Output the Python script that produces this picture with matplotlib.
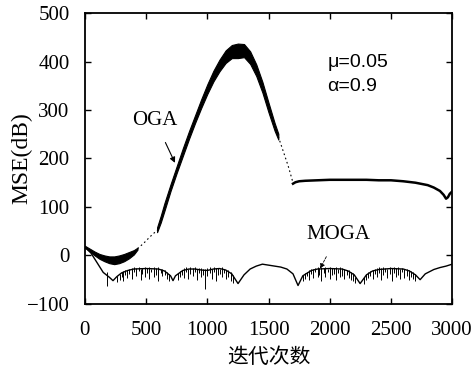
import numpy as np
import matplotlib
matplotlib.use("Agg")
import matplotlib.pyplot as plt

plt.rcParams['font.family'] = ['Liberation Serif', 'Noto Sans CJK SC']
plt.rcParams['mathtext.fontset'] = 'stix'

# OGA first solid band
oga1_x = [0, 40, 80, 120, 160, 200, 240, 280, 320, 360, 400, 430]
oga1_hi = [20, 14, 8, 3, 0, -2, -2, 0, 3, 7, 11, 16]
oga1_lo = [16, 8, 0, -7, -12, -16, -18, -16, -12, -6, 2, 12]
# dotted gap 1
oga_d1_x = [430, 480, 530, 590]
oga_d1_y = [14, 25, 38, 52]
# main hump band
oga2_x = [590, 620, 650, 700, 750, 800, 850, 900, 950, 1000, 1050, 1100, 1150,
          1200, 1250, 1300, 1350, 1400, 1450, 1500, 1550, 1580]
oga2_hi = [58, 82, 108, 147, 184, 221, 256, 289, 322, 353, 381, 404, 423,
           434, 437, 436, 421, 394, 358, 315, 273, 251]
oga2_lo = [48, 68, 92, 133, 170, 205, 240, 273, 304, 333, 359, 380, 397,
           407, 407, 409, 395, 370, 336, 295, 257, 239]
# dotted gap 2
oga_d2_x = [1580, 1620, 1660, 1700]
oga_d2_y = [245, 215, 185, 150]
# flat tail
oga3_x = [1700, 1720, 1750, 1800, 1900, 2000, 2100, 2200, 2300, 2400, 2500, 2600,
          2700, 2800, 2850, 2900, 2930, 2950, 2965, 2980, 3000]
oga3_y = [148, 151, 153, 154, 155, 156, 156, 156, 156, 155, 155, 153,
          150, 145, 140, 133, 125, 117, 120, 127, 132]

# MOGA smooth envelope
moga_x = [0, 50, 100, 150, 200, 230, 260, 300, 350, 400, 500, 600, 650, 700, 720,
          740, 800, 850, 900, 950, 1000, 1050, 1100, 1150, 1200, 1251, 1300, 1350,
          1400, 1450, 1500, 1550, 1600, 1650, 1700, 1741, 1780, 1850, 1900, 2000,
          2100, 2150, 2200, 2248, 2300, 2350, 2400, 2500, 2600, 2650, 2700, 2738,
          2780, 2850, 2900, 2950, 3000]
moga_y = [18, 5, -15, -35, -45, -52, -44, -36, -31, -28, -27, -28, -32, -42, -52,
          -42, -31, -28, -28, -30, -31, -28, -27, -30, -38, -58, -40, -28,
          -22, -18, -20, -22, -24, -28, -38, -62, -42, -31, -28, -27,
          -28, -32, -40, -58, -40, -32, -29, -27, -28, -32, -40, -50,
          -38, -29, -25, -22, -18]
# MOGA noise spikes
spike_x = [180,
           265, 285, 300, 312, 330, 348, 360, 385, 402, 418,
           440, 455, 470, 492, 505, 522, 540, 566, 583, 600,
           618, 632, 655, 672, 690, 760, 778, 795, 812, 830,
           846, 862, 880, 897, 915, 930, 948, 965, 981, 1000,
           1018, 1035, 1052, 1070, 1085, 1102, 1120, 1138, 1155, 1172,
           1190, 1210,
           1780, 1798, 1815, 1830, 1848, 1865, 1882, 1900, 1915, 1932,
           1950, 1965, 1983, 2000, 2018, 2035, 2050, 2068, 2085, 2102,
           2120, 2138, 2155, 2172, 2190, 2210, 2280, 2298, 2315, 2332,
           2350, 2368, 2385, 2400, 2418, 2435, 2452, 2470, 2488, 2505,
           2522, 2540, 2558, 2575, 2592, 2610, 2628, 2645, 2662, 2680,
           2700]
spike_top = [-35,
             -42, -38, -34, -33, -30, -29, -27, -26, -24, -26,
             -24, -27, -25, -23, -26, -24, -27, -24, -26, -23,
             -27, -28, -31, -34, -38, -36, -33, -30, -26, -24,
             -27, -23, -26, -24, -27, -25, -26, -28, -27, -26,
             -24, -27, -23, -26, -25, -27, -24, -27, -29, -31,
             -34, -40,
             -40, -37, -34, -31, -28, -27, -25, -24, -26, -23,
             -26, -24, -27, -23, -25, -26, -24, -27, -23, -26,
             -27, -29, -31, -34, -37, -44, -44, -39, -35, -32,
             -29, -27, -26, -24, -26, -23, -25, -27, -24, -26,
             -23, -26, -24, -27, -25, -27, -28, -30, -32, -35,
             -38]
spike_bot = [-62,
             -55, -50, -44, -52, -40, -46, -38, -48, -35, -42,
             -33, -50, -38, -44, -36, -48, -34, -45, -40, -52,
             -36, -42, -40, -48, -52, -50, -44, -40, -46, -35,
             -48, -38, -42, -34, -50, -37, -44, -40, -70, -42,
             -36, -48, -34, -52, -40, -38, -45, -36, -48, -44,
             -52, -56,
             -52, -48, -42, -50, -38, -46, -35, -44, -40, -52,
             -36, -45, -34, -48, -40, -38, -50, -36, -44, -42,
             -48, -40, -46, -50, -52, -56, -58, -50, -46, -42,
             -48, -38, -44, -36, -50, -40, -34, -46, -38, -52,
             -36, -44, -40, -48, -35, -46, -42, -50, -44, -48,
             -52]

x_ticks = [0, 500, 1000, 1500, 2000, 2500, 3000]
y_ticks = [-100, 0, 100, 200, 300, 400, 500]

fig = plt.figure(figsize=(4.74, 3.72), dpi=100)
ax = fig.add_axes([0.179, 0.183, 0.775, 0.782])

ax.fill_between(oga1_x, oga1_lo, oga1_hi, color='black', lw=0.8)
ax.plot(oga_d1_x, oga_d1_y, color='black', lw=0.8, ls=(0, (1.5, 2.5)))
ax.fill_between(oga2_x, oga2_lo, oga2_hi, color='black', lw=0.8)
ax.plot(oga_d2_x, oga_d2_y, color='black', lw=0.8, ls=(0, (1.5, 2.5)))
ax.plot(oga3_x, oga3_y, color='black', lw=1.8)
ax.plot(moga_x, moga_y, color='black', lw=1.0)
ax.vlines(spike_x, spike_bot, spike_top, color='black', lw=0.7)

ax.set_xlim(0, 3000)
ax.set_ylim(-100, 500)
ax.set_xticks(x_ticks)
ax.set_yticks(y_ticks)
ax.set_yticklabels(['\u2212100', '0', '100', '200', '300', '400', '500'])
ax.tick_params(direction='in', top=True, right=True, length=4, width=1,
               labelsize=15)
ax.tick_params(axis='x', pad=12)
ax.tick_params(axis='y', pad=11)
for s in ax.spines.values():
    s.set_linewidth(1.3)

ax.set_ylabel('MSE(dB)', fontsize=17, labelpad=-4)
ax.set_xlabel('迭代次数', fontsize=15, labelpad=6)

ax.annotate('OGA', xy=(736, 191), xytext=(572, 279), fontsize=15,
            ha='center', va='center',
            arrowprops=dict(arrowstyle='-|>', color='black', lw=0.8,
                            mutation_scale=8, shrinkA=8, shrinkB=0))
ax.annotate('MOGA', xy=(1921, -27), xytext=(2068, 43), fontsize=15,
            ha='center', va='center',
            arrowprops=dict(arrowstyle='-|>', color='black', lw=0.6,
                            mutation_scale=7, ls=(0, (3, 1.5)),
                            shrinkA=8, shrinkB=0))
ax.text(1980, 398, '\u03bc=0.05', fontsize=14, ha='left', va='center',
        family=['Liberation Sans'])
ax.text(1980, 349, '\u03b1=0.9', fontsize=14, ha='left', va='center',
        family=['Liberation Sans'])

fig.savefig('out.png', dpi=100)
